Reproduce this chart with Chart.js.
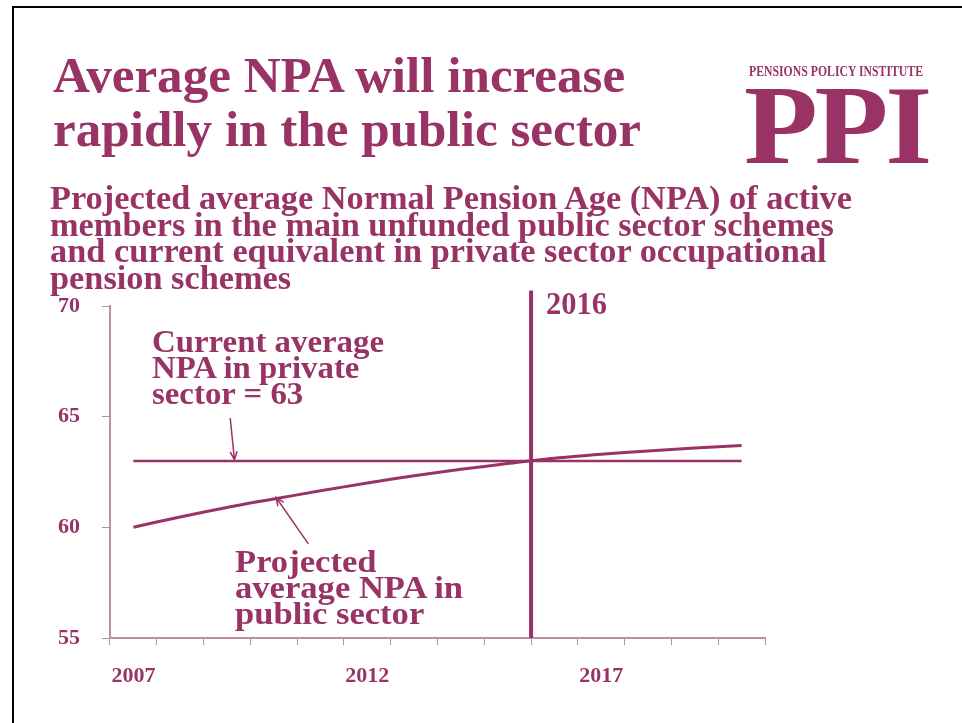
<!DOCTYPE html>
<html lang="en">
<head>
    <meta charset="UTF-8">
    <title>Average NPA</title>
    <script src="https://cdn.jsdelivr.net/npm/chart.js"></script>
    <style>
        body { margin: 0; width: 962px; height: 723px; background: #fff; overflow: hidden; position: relative; }
        .frame { position: absolute; left: 12px; top: 6px; width: 950px; height: 717px; border-top: 2px solid #000; border-left: 2px solid #000; box-sizing: border-box; }
        .txt { position: absolute; color: #993366; font-family: "Liberation Serif", serif; font-weight: bold; white-space: nowrap; transform-origin: 0 0; }
        #title { left: 53px; top: 48px; font-size: 50px; line-height: 54px; }
        #subtitle { left: 50px; top: 185px; font-size: 34px; line-height: 26.5px; }
        #org { left: 749px; top: 64px; font-size: 14px; line-height: 16px; }
        #ppi { left: 744px; top: 62px; font-size: 113px; line-height: 126px; letter-spacing: -3px; }
        #noteA { left: 152px; top: 328px; font-size: 32px; line-height: 26px; }
        #noteB { left: 235px; top: 548px; font-size: 32px; line-height: 26px; }
        #mark { left: 546px; top: 290px; font-size: 32px; line-height: 26px; }
        canvas { position: absolute; left: 0; top: 0; }
    </style>
</head>
<body>
    <div class="frame"></div>
    <canvas id="grafico"></canvas>

    <div class="txt" id="title">Average NPA will increase<br>rapidly in the public sector</div>
    <div class="txt" id="subtitle">Projected average Normal Pension Age (NPA) of active<br>members in the main unfunded public sector schemes<br>and current equivalent in private sector occupational<br>pension schemes</div>
    <div class="txt" id="ppi">PPI</div>
    <div class="txt" id="org">PENSIONS POLICY INSTITUTE</div>
    <div class="txt" id="noteA">Current average<br>NPA in private<br>sector = 63</div>
    <div class="txt" id="noteB">Projected<br>average NPA in<br>public sector</div>
    <div class="txt" id="mark">2016</div>

    <script>
        const anos = [2007, 2008, 2009, 2010, 2011, 2012, 2013, 2014, 2015, 2016, 2017, 2018, 2019, 2020]
        const npaPublico = [60.0, 60.47, 60.9, 61.28, 61.65, 62.0, 62.33, 62.62, 62.88, 63.12, 63.3, 63.45, 63.58, 63.7]
        const npaPrivado = [63, 63, 63, 63, 63, 63, 63, 63, 63, 63, 63, 63, 63, 63]
        const anosRotulo = [2007, 2012, 2017]
        const yTicks = [55, 60, 65, 70]
        const anoMarco = 2016

        const cor = '#993366'
        const corEixo = '#bf8ea3'

        // setas das anotacoes, em coordenadas do grafico (indice do ano, valor)
        const setas = [
            { de: [2.07, 64.94], para: [2.16, 63.05] },
            { de: [3.74, 59.25], para: [3.05, 61.35] }
        ]

        // ajusta a largura de textos condensados
        const ajustar = (id, largura) => {
            const el = document.getElementById(id)
            const w = el.getBoundingClientRect().width
            el.style.transform = `scaleX(${largura / w})`
        }
        ajustar('title', 588)
        ajustar('subtitle', 802)
        ajustar('org', 174)
        ajustar('ppi', 185)
        ajustar('noteA', 232)
        ajustar('noteB', 228)
        ajustar('mark', 61)

        const extras = {
            id: 'extras',
            afterDatasetsDraw(chart) {
                const { ctx, scales: { x, y } } = chart
                ctx.save()
                ctx.strokeStyle = cor

                // linha vertical do ano de referencia
                const xm = x.getPixelForValue(anos.indexOf(anoMarco) - 0.5)
                ctx.lineWidth = 4
                ctx.beginPath()
                ctx.moveTo(xm, y.getPixelForValue(70.7))
                ctx.lineTo(xm, y.bottom)
                ctx.stroke()

                // setas
                ctx.lineWidth = 1.5
                setas.forEach(s => {
                    const x0 = x.getPixelForValue(s.de[0]), y0 = y.getPixelForValue(s.de[1])
                    const x1 = x.getPixelForValue(s.para[0]), y1 = y.getPixelForValue(s.para[1])
                    const ang = Math.atan2(y1 - y0, x1 - x0)
                    ctx.beginPath()
                    ctx.moveTo(x0, y0)
                    ctx.lineTo(x1, y1)
                    ctx.moveTo(x1 - 9 * Math.cos(ang - 0.4), y1 - 9 * Math.sin(ang - 0.4))
                    ctx.lineTo(x1, y1)
                    ctx.lineTo(x1 - 9 * Math.cos(ang + 0.4), y1 - 9 * Math.sin(ang + 0.4))
                    ctx.stroke()
                })
                ctx.restore()
            }
        }

        const canvas = document.getElementById('grafico')
        canvas.width = 962
        canvas.height = 723

        const fonteTick = { family: '"Liberation Serif", serif', size: 22, weight: 'bold' }

        new Chart(canvas, {
            type: 'line',
            data: {
                labels: anos,
                datasets: [
                    { label: 'Private sector', data: npaPrivado, borderColor: cor, borderWidth: 2.5, pointRadius: 0, tension: 0 },
                    { label: 'Public sector', data: npaPublico, borderColor: cor, borderWidth: 3, pointRadius: 0, tension: 0.3 }
                ]
            },
            options: {
                responsive: false,
                animation: false,
                layout: { padding: { left: 40, top: 306, right: 197, bottom: 20 } },
                plugins: { legend: { display: false }, tooltip: { enabled: false } },
                scales: {
                    x: {
                        offset: true,
                        grid: { offset: true, drawOnChartArea: false, tickLength: 7, color: corEixo },
                        border: { color: corEixo, width: 2 },
                        ticks: {
                            color: cor, font: fonteTick, padding: 18, autoSkip: false, maxRotation: 0,
                            callback: (v, i) => anosRotulo.includes(anos[i]) ? anos[i] : ''
                        },
                        afterFit: s => { s.height = 65; s.paddingLeft = 0; s.paddingRight = 0 }
                    },
                    y: {
                        min: 55, max: 70,
                        grid: { drawOnChartArea: false, tickLength: 8, color: corEixo },
                        border: { color: corEixo, width: 2 },
                        ticks: { color: cor, font: fonteTick, padding: 22, stepSize: 5 },
                        afterBuildTicks: s => { s.ticks = yTicks.map(v => ({ value: v })) },
                        afterFit: s => { s.width = 70; s.paddingTop = 0; s.paddingBottom = 0 }
                    }
                }
            },
            plugins: [extras]
        })
    </script>
</body>
</html>
